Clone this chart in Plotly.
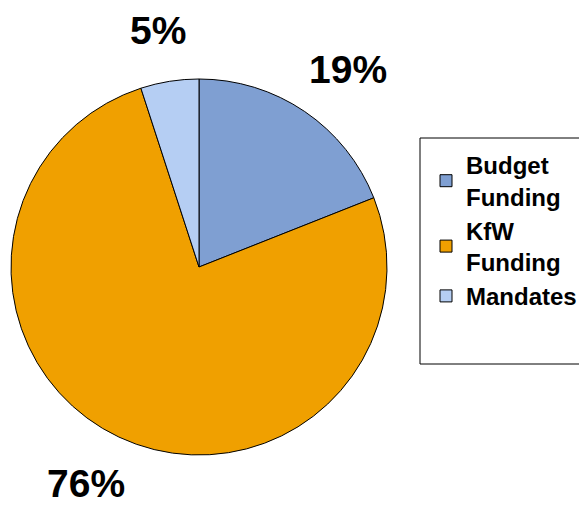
import math
import plotly.graph_objects as go

categories = ["Budget<br>Funding", "KfW<br>Funding", "Mandates"]
shares = [19, 76, 5]
colors = ["#7F9FD2", "#F0A000", "#B5CEF3"]

# the page body has an 8px margin, so the figure is drawn 8px in from the
# window corner; work in window pixels and convert
OFF = 8
W, H = 587 - OFF, 514 - OFF


def fx(px):
    return (px - OFF) / W


def fy(py):
    return 1 - (py - OFF) / H


cx, cy, r = 199, 267, 188  # pie centre and radius in window pixels

fig = go.Figure()
fig.add_trace(go.Pie(
    labels=categories,
    values=shares,
    sort=False,
    direction="clockwise",
    rotation=0,
    textinfo="none",
    hoverinfo="label+percent",
    marker=dict(colors=colors, line=dict(color="#000000", width=1)),
    domain=dict(x=[fx(cx - r), fx(cx + r)],
                y=[fy(cy + r), fy(cy - r)]),
))

# percentage labels outside each slice, placed from the slice mid-angle
total = sum(shares)
cum = 0
lab_rx, lab_ry = 265, 239
for v in shares:
    mid = (cum + v / 2) / total * 2 * math.pi
    cum += v
    px = cx + lab_rx * math.sin(mid)
    py = cy - lab_ry * math.cos(mid)
    fig.add_annotation(
        x=fx(px), y=fy(py), xref="paper", yref="paper",
        text=f"{v}%", showarrow=False, xanchor="center", yanchor="middle",
        font=dict(family="Liberation Sans, Arial", size=39, color="#000000", weight="bold"),
    )

# legend frame
fig.add_shape(type="rect", xref="paper", yref="paper",
              x0=fx(420), x1=1.02, y0=fy(364), y1=fy(138),
              line=dict(color="#000000", width=1), fillcolor="rgba(0,0,0,0)")

fig.update_layout(
    width=W, height=H,
    margin=dict(l=0, r=0, t=0, b=0),
    paper_bgcolor="white",
    plot_bgcolor="white",
    showlegend=True,
    legend=dict(
        x=fx(426), y=fy(143), xanchor="left", yanchor="top",
        font=dict(family="Liberation Sans, Arial", size=24, color="#000000", weight="bold"),
        bgcolor="rgba(0,0,0,0)", borderwidth=0,
        tracegroupgap=0,
    ),
)

fig.write_html("out.html")
